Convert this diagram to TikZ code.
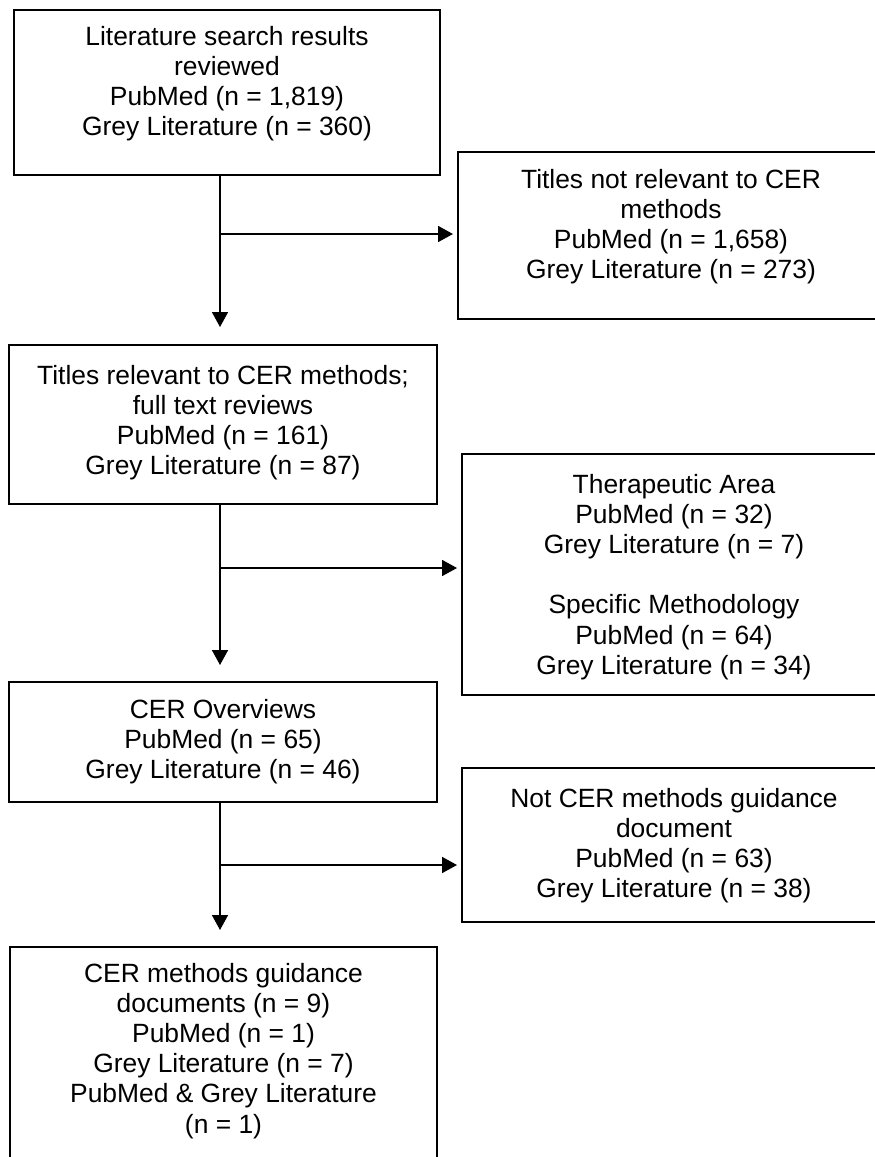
\documentclass[tikz,border=0pt]{standalone}
\usepackage{fontspec}
\setmainfont{Liberation Sans}
\usetikzlibrary{positioning,calc,arrows.meta}

\newcommand{\boxtxt}[4][17pt]{\parbox[t][#3][t]{#2}{\centering\vspace*{#1}#4}}

\begin{document}
\begin{tikzpicture}[x=1pt, y=-1pt,
    box/.style={draw, line width=2pt, anchor=north west, inner sep=0pt, font=\fontsize{26.4}{30.2}\selectfont},
    flow/.style={line width=1.7pt, -{Triangle[width=16pt,length=15pt]}}]
    \useasboundingbox (0,0) rectangle (875,1157);
    \clip (0,0) rectangle (875,1157);

    % Left column
    \node[box] (search) at (13,9) {\boxtxt[16pt]{426pt}{165pt}{Literature search results\\ reviewed\\ PubMed (n = 1,819)\\ Grey Literature (n = 360)}};
    \node[box] (fulltext) at (8,344) {\boxtxt[20pt]{428pt}{159pt}{Titles relevant to CER methods;\\ full text reviews\\ PubMed (n = 161)\\ Grey Literature (n = 87)}};
    \node[box] (overview) at (8,681) {\boxtxt{428pt}{120pt}{CER Overviews\\ PubMed (n = 65)\\ Grey Literature (n = 46)}};
    \node[box] (guidance) at (9,946) {\boxtxt[16pt]{427pt}{230pt}{CER methods guidance\\ documents (n = 9)\\ PubMed (n = 1)\\ Grey Literature (n = 7)\\ PubMed \& Grey Literature\\ (n = 1)}};

    % Right column (exclusions)
    \node[box] (notrel) at (457,151) {\boxtxt{426pt}{167pt}{Titles not relevant to CER\\ methods\\ PubMed (n = 1,658)\\ Grey Literature (n = 273)}};
    \node[box] (excl) at (461,453) {\boxtxt[20pt]{424pt}{241pt}{Therapeutic Area\\ PubMed (n = 32)\\ Grey Literature (n = 7)\\[30.2pt] Specific Methodology\\ PubMed (n = 64)\\ Grey Literature (n = 34)}};
    \node[box] (notguid) at (461,767) {\boxtxt[20pt]{424pt}{154pt}{Not CER methods guidance\\ document\\ PubMed (n = 63)\\ Grey Literature (n = 38)}};

    % Branch points on the spine
    \coordinate (b1) at (220,234);
    \coordinate (b2) at (220,568);
    \coordinate (b3) at (220,865);

    % Arrows
    \draw[flow, shorten >=17pt] (search.south -| b1) -- (fulltext.north -| b1);
    \draw[flow, shorten >=16pt] (fulltext.south -| b2) -- (overview.north -| b2);
    \draw[flow, shorten >=16pt] (overview.south -| b3) -- (guidance.north -| b3);
    \draw[flow, shorten >=4pt] (b1) -- (notrel.west |- b1);
    \draw[flow, shorten >=4pt] (b2) -- (excl.west |- b2);
    \draw[flow, shorten >=4pt] (b3) -- (notguid.west |- b3);
\end{tikzpicture}
\end{document}
